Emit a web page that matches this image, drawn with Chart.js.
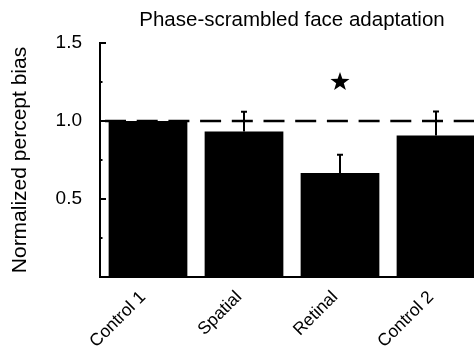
<!DOCTYPE html>
<html>
<head>
<meta charset="utf-8">
<script src="https://cdn.jsdelivr.net/npm/chart.js@4"></script>
<style>
  html, body { margin: 0; padding: 0; background: #fff; overflow: hidden; }
  #wrap { width: 484px; height: 352px; }
</style>
</head>
<body>
<div id="wrap"><canvas id="c" width="484" height="352"></canvas></div>
<script>
// ---- data ----
const chartTitle = 'Phase-scrambled face adaptation';
const yAxisTitle = 'Normalized percept bias';
const categories = ['Control 1', 'Spatial', 'Retinal', 'Control 2'];
const biasValues = [1.0, 0.933, 0.667, 0.907];
const biasErrors = [0.0, 0.126, 0.117, 0.154];
const yTickLabels = ['0.5', '1.0', '1.5'];
const yMin = 0, yMax = 1.5, yMinorStep = 0.25;
const referenceValue = 1.0;
const starCategory = 'Retinal';
const starValue = 1.25;

const FONT = "'Liberation Sans', Arial, Helvetica, sans-serif";

const extrasPlugin = {
  id: 'extras',
  afterDatasetsDraw(chart) {
    const ctx = chart.ctx;
    const xs = chart.scales.x, ys = chart.scales.y;
    const area = chart.chartArea;
    ctx.save();
    // error bars (upward only)
    ctx.strokeStyle = '#000';
    ctx.lineWidth = 2;
    const meta = chart.getDatasetMeta(0);
    biasValues.forEach((v, i) => {
      const e = biasErrors[i];
      if (!e) return;
      const x = meta.data[i].x;
      const y0 = ys.getPixelForValue(v);
      const y1 = ys.getPixelForValue(v + e);
      ctx.beginPath();
      ctx.moveTo(x, y0); ctx.lineTo(x, y1);
      ctx.moveTo(x - 3, y1); ctx.lineTo(x + 3, y1);
      ctx.stroke();
    });
    // dashed reference line
    const yr = ys.getPixelForValue(referenceValue);
    ctx.setLineDash([21, 10.7]);
    ctx.lineDashOffset = 26.7;
    ctx.lineWidth = 2.5;
    ctx.beginPath();
    ctx.moveTo(area.left, yr); ctx.lineTo(area.right, yr);
    ctx.stroke();
    ctx.setLineDash([]);
    // inward y ticks
    ctx.lineWidth = 2;
    for (let v = yMin + yMinorStep; v <= yMax + 1e-9; v += yMinorStep) {
      const y = ys.getPixelForValue(v);
      const major = Math.abs(v / 0.5 - Math.round(v / 0.5)) < 1e-6;
      ctx.beginPath();
      ctx.moveTo(area.left, y); ctx.lineTo(area.left + (major ? 6 : 2.5), y);
      ctx.stroke();
    }
    // star marker
    const sx = xs.getPixelForValue(categories.indexOf(starCategory));
    const sy = ys.getPixelForValue(starValue);
    const R = 10, r = 4;
    ctx.fillStyle = '#000';
    ctx.beginPath();
    for (let k = 0; k < 10; k++) {
      const rad = k % 2 === 0 ? R : r;
      const a = -Math.PI / 2 + k * Math.PI / 5;
      const px = sx + rad * Math.cos(a), py = sy + rad * Math.sin(a);
      if (k === 0) ctx.moveTo(px, py); else ctx.lineTo(px, py);
    }
    ctx.closePath();
    ctx.fill();
    ctx.restore();
  }
};

new Chart(document.getElementById('c'), {
  type: 'bar',
  data: {
    labels: categories,
    datasets: [{
      data: biasValues,
      backgroundColor: '#000',
      borderWidth: 0,
      barPercentage: 0.82,
      categoryPercentage: 1.0
    }]
  },
  options: {
    responsive: false,
    animation: false,
    layout: { padding: 0 },
    plugins: {
      legend: { display: false },
      tooltip: { enabled: false },
      title: {
        display: true,
        text: chartTitle,
        fullSize: false,
        color: '#000',
        font: { family: FONT, size: 20.5, weight: 'normal' },
        padding: { top: 7.7, bottom: 10.7 }
      }
    },
    scales: {
      x: {
        grid: { display: false, drawTicks: false },
        border: { display: true, color: '#000', width: 2 },
        ticks: {
          color: '#000',
          font: { family: FONT, size: 17.5 },
          minRotation: 45, maxRotation: 45,
          padding: 10,
          labelOffset: -5
        },
        afterFit(s) { s.height = 75; }
      },
      y: {
        min: yMin, max: yMax,
        grid: { display: false, drawTicks: false },
        border: { display: true, color: '#000', width: 2 },
        ticks: {
          stepSize: yMinorStep,
          color: '#000',
          font: { family: FONT, size: 19 },
          padding: 18,
          autoSkip: false,
          callback(v) {
            const s = Number(v).toFixed(1);
            return yTickLabels.includes(s) && Math.abs(v * 2 - Math.round(v * 2)) < 1e-6 ? s : '';
          }
        },
        title: {
          display: true,
          text: yAxisTitle,
          color: '#000',
          font: { family: FONT, size: 21 },
          padding: { top: 7.4, bottom: 0 }
        },
        afterFit(s) { s.width = 100; }
      }
    }
  },
  plugins: [extrasPlugin]
});
</script>
</body>
</html>
